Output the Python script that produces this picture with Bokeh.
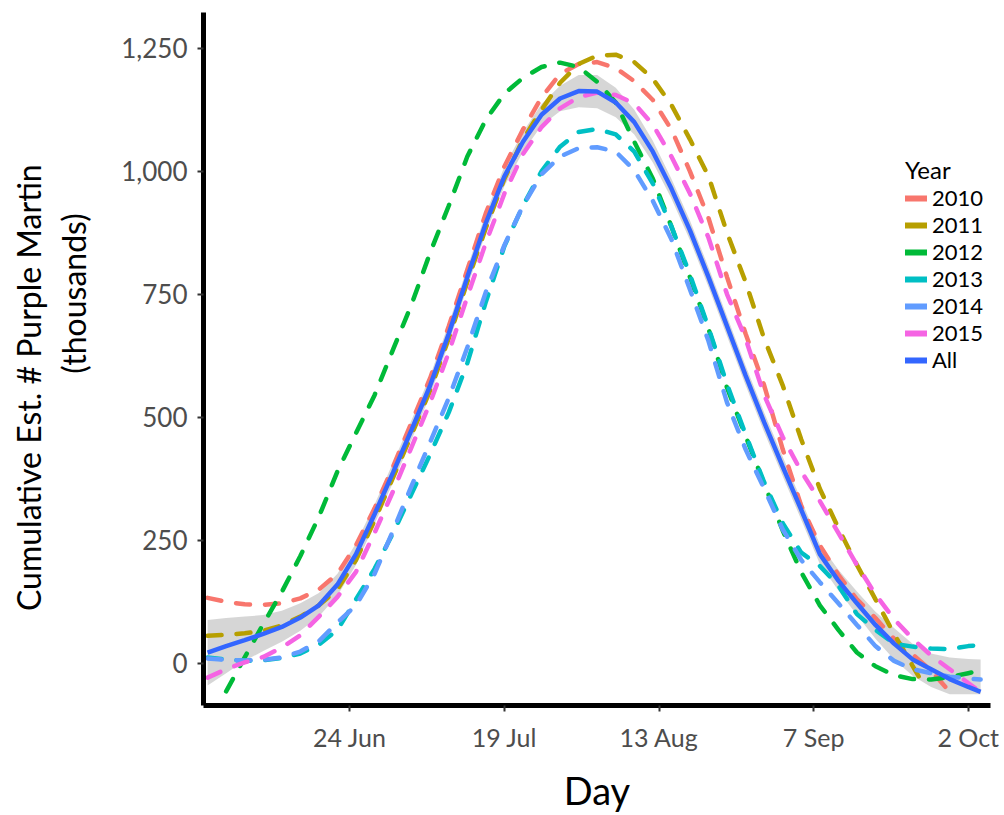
from bokeh.plotting import figure
from bokeh.models import Range1d, FixedTicker, LinearAxis, Legend, LegendItem
from bokeh.embed import file_html
from bokeh.resources import INLINE

NaN = float("nan")
NB = "\u00a0"

# ---------------- data (day of year, thousands) ----------------
days = [152, 155, 158, 161, 164, 167, 170, 173, 176, 179, 182, 185, 188, 191, 194,
        197, 200, 203, 206, 209, 212, 215, 218, 221, 224, 227, 230, 233, 236, 239,
        242, 245, 248, 251, 254, 257, 260, 263, 266, 269, 272, 275, 277]

days_2011 = [152, 155, 158, 161, 164, 167, 170, 173, 176, 179, 182, 185, 188, 191, 194,
             197, 200, 203, 206, 209, 212, 215, 218, 221, 224, 227, 230, 233, 236, 239,
             242, 245, 248, 251, 254, 257, 260, 263, 266, 268]

days_2012 = [155, 158, 161, 164, 167, 170, 173, 176, 179, 182, 185, 188, 191, 194,
             197, 200, 203, 206, 209, 212, 215, 218, 221, 224, 227, 230, 233, 236, 239,
             242, 245, 248, 251, 254, 257, 260, 263, 266, 269, 272, 275, 277]

y2010 = [133, 125, 120, 119, 122, 132, 150, 182, 240, 315, 400, 490, 580, 685, 800,
         915, 1010, 1085, 1150, 1198, 1218, 1222, 1210, 1183, 1145, 1085, 1000, 905, 785, 670,
         565, 435, 320, 240, 180, 130, 92, 50, 18, -15, -58, NaN, NaN]

y2011 = [56, 58, 61, 66, 77, 95, 118, 150, 210, 290, 378, 465, 555, 660, 775,
         885, 985, 1065, 1125, 1180, 1218, 1235, 1237, 1222, 1188, 1135, 1065, 990, 875, 775,
         660, 565, 455, 355, 275, 200, 130, 60, -5, -48]

y2012 = [-57, 12, 80, 145, 218, 298, 390, 468, 545, 638, 730, 835, 930, 1030,
         1105, 1158, 1190, 1212, 1221, 1212, 1182, 1140, 1060, 985, 888, 785, 680, 560, 462,
         365, 270, 185, 118, 68, 22, -6, -24, -32, -33, -28, -20, -15]

y2013 = [12, 8, 5, 6, 11, 20, 38, 68, 130, 192, 265, 345, 425, 510, 610,
         735, 848, 930, 1000, 1050, 1080, 1086, 1075, 1040, 975, 888, 790, 682, 567, 465,
         368, 285, 225, 198, 158, 100, 68, 40, 34, 30, 29, 35, 37]

y2014 = [10, 7, 6, 7, 12, 24, 45, 83, 118, 182, 270, 361, 450, 539, 642,
         755, 850, 930, 994, 1030, 1047, 1049, 1040, 1002, 940, 862, 760, 655, 530, 435,
         355, 272, 210, 165, 122, 78, 35, 5, -12, -20, -27, -31, -33]

y2015 = [-29, -12, 2, 13, 32, 57, 95, 135, 186, 265, 350, 440, 530, 632, 745,
         855, 955, 1035, 1090, 1128, 1151, 1160, 1155, 1138, 1095, 1030, 955, 865, 750, 660,
         545, 460, 390, 330, 265, 200, 140, 90, 50, 16, -12, -40, -58]

y_all = [22, 35, 47, 60, 74, 93, 118, 160, 222, 303, 388, 475, 565, 670, 785,
         895, 990, 1060, 1115, 1148, 1163, 1162, 1140, 1100, 1040, 965, 880, 785, 685, 585,
         490, 400, 312, 222, 168, 122, 78, 40, 8, -12, -32, -48, -58]

all_lo = [-45, -20, 5, 25, 44, 66, 95, 138, 200, 283, 368, 455, 545, 650, 765,
          875, 970, 1040, 1093, 1122, 1130, 1128, 1110, 1075, 1018, 945, 860, 765, 665, 565,
          470, 380, 292, 202, 148, 98, 50, 8, -25, -48, -63, -63, -63]

all_hi = [88, 92, 95, 98, 107, 122, 143, 182, 244, 323, 408, 495, 585, 690, 805,
          915, 1010, 1080, 1137, 1174, 1196, 1196, 1170, 1125, 1062, 985, 900, 805, 705, 605,
          510, 420, 332, 242, 190, 146, 105, 72, 40, 20, 12, 9, 8]

years = ["2010", "2011", "2012", "2013", "2014", "2015"]
year_colors = ["#F8766D", "#B79F00", "#00BA38", "#00BFC4", "#619CFF", "#F564E3"]
all_color = "#3366FF"

x_ticks = [175, 200, 225, 250, 275]
x_tick_labels = ["24 Jun", "19 Jul", "13 Aug", "7 Sep", "2 Oct"]
y_ticks = [0, 250, 500, 750, 1000, 1250]
y_tick_labels = ["0", "250", "500", "750", "1,000", "1,250"]

FONT = "Lato"

# ---------------- figure ----------------
p = figure(width=1000, height=815, output_backend="svg", toolbar_location=None,
           x_range=Range1d(151.34, 278.6), y_range=Range1d(-85.7, 1322.8),
           min_border_left=203, min_border_right=10, min_border_top=12, min_border_bottom=110,
           background_fill_color="white", border_fill_color="white")
p.xgrid.visible = False
p.ygrid.visible = False
p.outline_line_color = None

# confidence band for "All"
p.varea(x=days, y1=all_lo, y2=all_hi, fill_color="#999999", fill_alpha=0.4)

series_x = [days, days_2011, days_2012, days, days, days]
series_y = [y2010, y2011, y2012, y2013, y2014, y2015]
for xs, ys, c in zip(series_x, series_y, year_colors):
    p.line(x=xs, y=ys, line_color=c, line_width=4.5, line_dash="14 15", line_cap="round")

p.line(x=days, y=y_all, line_color=all_color, line_width=4.5)

# legend with solid keys (renderers that draw nothing in the plot)
items = []
for name, c in zip(years + ["All"], year_colors + [all_color]):
    r = p.line(x=[NaN], y=[NaN], line_color=c, line_width=6, line_cap="round")
    items.append(LegendItem(label=name, renderers=[r]))
legend = Legend(items=items, title="Year", location=(702, 332),
                border_line_color=None, background_fill_alpha=0,
                padding=0, margin=0, spacing=0,
                glyph_width=22, glyph_height=20, label_height=20, label_standoff=5,
                label_text_font=FONT, label_text_font_size="22px", label_text_color="black",
                label_text_line_height=1.0,
                title_text_font=FONT, title_text_font_size="24px", title_text_font_style="normal",
                title_text_color="black", title_text_line_height=1.0, title_standoff=0)
p.add_layout(legend)

# axes
for ax in (p.xaxis[0], p.yaxis[0]):
    ax.axis_line_width = 5
    ax.axis_line_color = "black"
    ax.major_tick_line_color = "#333333"
    ax.major_tick_line_width = 2
    ax.major_tick_out = 6
    ax.major_tick_in = 0
    ax.minor_tick_line_color = None
    ax.major_label_text_font = FONT
    ax.major_label_text_font_size = "26px"
    ax.major_label_text_color = "#4D4D4D"
    ax.axis_label_text_font = FONT
    ax.axis_label_text_font_style = "normal"
    ax.axis_label_text_color = "black"

p.xaxis.ticker = FixedTicker(ticks=x_ticks)
p.xaxis.major_label_overrides = {t: l for t, l in zip(x_ticks, x_tick_labels)}
p.xaxis.major_label_text_font_size = "25px"
p.xaxis.axis_label = "Day"
p.xaxis.axis_label_text_font_size = "38px"
p.xaxis.major_label_standoff = 10
p.xaxis.axis_label_standoff = 12

# second title line sits higher than the first one in the reference
p.yaxis.ticker = FixedTicker(ticks=y_ticks)
p.yaxis.major_label_overrides = {t: l for t, l in zip(y_ticks, y_tick_labels)}
p.yaxis.axis_label = NB * 16 + "(thousands)"
p.yaxis.axis_label_text_font_size = "32px"
p.yaxis.major_label_standoff = 10
p.yaxis.axis_label_standoff = 25

outer = LinearAxis(axis_label="Cumulative Est. # Purple Martin" + NB * 7,
                   ticker=FixedTicker(ticks=[]), axis_line_color=None,
                   major_tick_line_color=None, minor_tick_line_color=None,
                   major_label_text_font_size="0px",
                   axis_label_text_font=FONT, axis_label_text_font_size="32px",
                   axis_label_text_font_style="normal", axis_label_text_color="black",
                   axis_label_standoff=4)
p.add_layout(outer, "left")

open("out.html", "w").write(file_html(p, INLINE))
